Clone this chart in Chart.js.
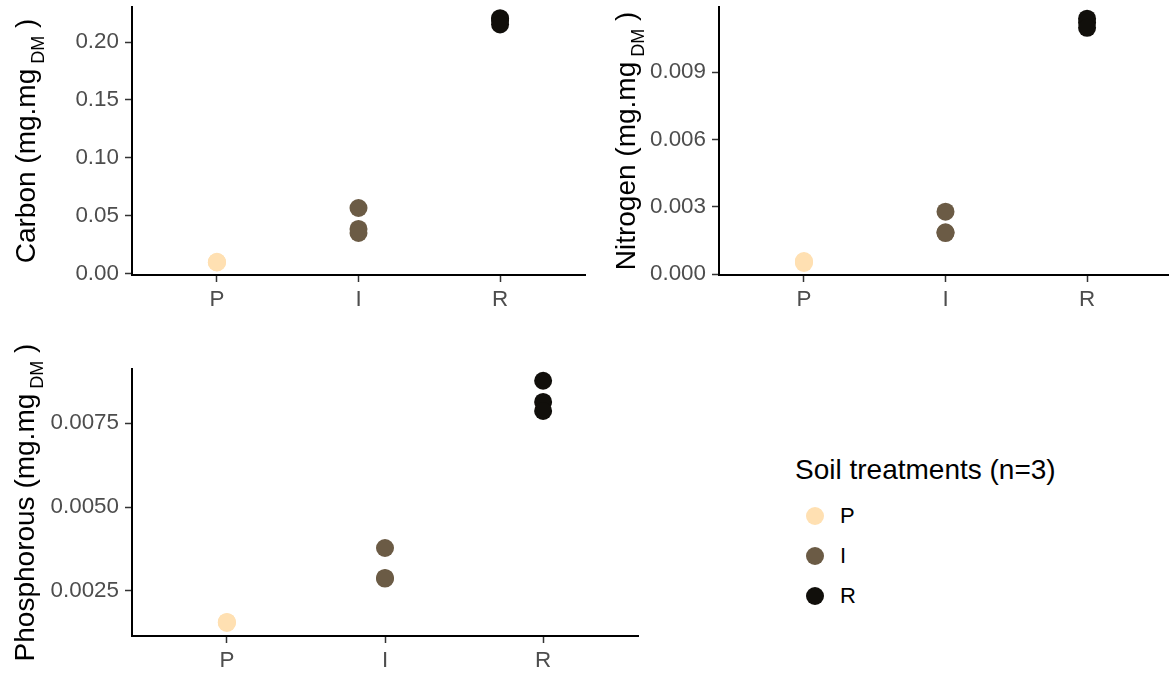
<!DOCTYPE html>
<html>
<head>
<meta charset="utf-8">
<script src="https://cdn.jsdelivr.net/npm/chart.js@4"></script>
<style>
  html, body { margin: 0; padding: 0; background: #fff; }
  body { width: 1169px; height: 675px; position: relative; overflow: hidden;
         font-family: "Liberation Sans", Arial, sans-serif; }
  .panel { position: absolute; }
  #legend { position: absolute; left: 795px; top: 456px; color: #000; }
  #legend .ttl { font-size: 28px; line-height: 28px; white-space: nowrap; }
  #legend .item { position: absolute; left: 11px; display: flex; align-items: center; height: 20px; }
  #legend .dot { width: 18px; height: 18px; border-radius: 50%; }
  #legend .lbl { font-size: 22px; margin-left: 16px; }
</style>
</head>
<body>
<div class="panel" style="left:0;top:0;width:590px;height:320px"><canvas id="chartC"></canvas></div>
<div class="panel" style="left:590px;top:0;width:586px;height:320px"><canvas id="chartN"></canvas></div>
<div class="panel" style="left:0;top:340px;width:650px;height:335px"><canvas id="chartP"></canvas></div>
<div id="legend"></div>

<script>
// ── Datos ──────────────────────────────────────────────────────────────────
const CATEGORIES = ['P', 'I', 'R'];
const COLORS     = ['#FFE0B2', '#6B5B45', '#110F0B'];
const LEGEND_TITLE = 'Soil treatments (n=3)';

// tres réplicas por tratamiento
const carbonP = [0.0098, 0.0101, 0.0104];
const carbonI = [0.0568, 0.0387, 0.0353];
const carbonR = [0.2206, 0.2190, 0.2152];

const nitrogenP = [0.00050, 0.00055, 0.00058];
const nitrogenI = [0.00278, 0.00183, 0.00186];
const nitrogenR = [0.01138, 0.01120, 0.01097];

const phosP = [0.00155, 0.00157, 0.00158];
const phosI = [0.00378, 0.00289, 0.00287];
const phosR = [0.00876, 0.00813, 0.00786];

const carbonTicks   = [0.00, 0.05, 0.10, 0.15, 0.20];
const nitrogenTicks = [0.000, 0.003, 0.006, 0.009];
const phosTicks     = [0.0025, 0.0050, 0.0075];

// ── Utils ──────────────────────────────────────────────────────────────────
const $ = id => document.getElementById(id);
const FONT = '"Liberation Sans", Arial, sans-serif';
const TICK_SIZE  = 22.4;
const TITLE_SIZE = 28;

function _datasets(series) {
  return series.map((vals, i) => ({
    label: CATEGORIES[i],
    data: vals.map(v => ({ x: i + 1, y: v })),
    backgroundColor: COLORS[i],
    borderWidth: 0,
    pointRadius: 9,
    pointHoverRadius: 9,
  }));
}

// sin relleno extra por las etiquetas: el área del gráfico la fija layout.padding
function _noPad(s) {
  s.paddingTop = 0; s.paddingBottom = 0; s.paddingLeft = 0; s.paddingRight = 0;
}

// título del eje Y con subíndice "DM"
function _yTitle(name, baseX) {
  const parts = [
    { text: name + ' (mg.mg', size: TITLE_SIZE, shift: 0 },
    { text: ' DM',            size: 18,         shift: 9 },
    { text: ' )',             size: TITLE_SIZE, shift: 0 },
  ];
  return {
    id: 'yTitle',
    afterDraw(chart) {
      const ctx = chart.ctx;
      const area = chart.chartArea;
      ctx.save();
      const widths = parts.map(p => { ctx.font = `${p.size}px ${FONT}`; return ctx.measureText(p.text).width; });
      const total = widths.reduce((a, b) => a + b, 0);
      ctx.translate(baseX, (area.top + area.bottom) / 2);
      ctx.rotate(-Math.PI / 2);
      ctx.fillStyle = '#000';
      ctx.textBaseline = 'alphabetic';
      let u = -total / 2;
      parts.forEach((p, i) => {
        ctx.font = `${p.size}px ${FONT}`;
        ctx.fillText(p.text, u, p.shift);
        u += widths[i];
      });
      ctx.restore();
    }
  };
}

function _panel(canvasId, cfg) {
  return new Chart($(canvasId), {
    type: 'scatter',
    data: { datasets: _datasets(cfg.series) },
    options: {
      responsive: true,
      maintainAspectRatio: false,
      animation: false,
      layout: { padding: cfg.padding, autoPadding: false },
      plugins: { legend: { display: false }, tooltip: { enabled: false } },
      scales: {
        x: {
          type: 'linear', min: 0.4, max: 3.6,
          afterBuildTicks: s => { s.ticks = [1, 2, 3].map(v => ({ value: v })); },
          afterFit: s => { s.height = cfg.xHeight; _noPad(s); },
          ticks: { callback: v => CATEGORIES[v - 1], color: '#4D4D4D', padding: 4,
                   font: { family: FONT, size: TICK_SIZE } },
          grid: { drawOnChartArea: false, drawTicks: true, tickLength: 7, tickColor: '#333', tickWidth: 1.5 },
          border: { display: true, color: '#000', width: 2 },
        },
        y: {
          min: cfg.yMin, max: cfg.yMax,
          afterBuildTicks: s => { s.ticks = cfg.ticks.map(v => ({ value: v })); },
          afterFit: s => { s.width = cfg.yWidth; _noPad(s); },
          ticks: { callback: v => v.toFixed(cfg.digits), color: '#4D4D4D', padding: 6,
                   font: { family: FONT, size: TICK_SIZE } },
          grid: { drawOnChartArea: false, drawTicks: true, tickLength: 7, tickColor: '#333', tickWidth: 1.5 },
          border: { display: true, color: '#000', width: 2 },
        },
      },
    },
    plugins: [_yTitle(cfg.name, cfg.titleX)],
  });
}

// ── Paneles ────────────────────────────────────────────────────────────────
_panel('chartC', {
  name: 'Carbon', series: [carbonP, carbonI, carbonR], ticks: carbonTicks, digits: 2,
  yMin: -0.0010, yMax: 0.2302, yWidth: 132, xHeight: 45, titleX: 35,
  padding: { top: 7, right: 5, left: 0, bottom: 0 },
});

_panel('chartN', {
  name: 'Nitrogen', series: [nitrogenP, nitrogenI, nitrogenR], ticks: nitrogenTicks, digits: 3,
  yMin: -0.00004, yMax: 0.01190, yWidth: 129, xHeight: 45, titleX: 45,
  padding: { top: 7, right: 4, left: 0, bottom: 0 },
});

_panel('chartP', {
  name: 'Phosphorous', series: [phosP, phosI, phosR], ticks: phosTicks, digits: 4,
  yMin: 0.00116, yMax: 0.00911, yWidth: 132, xHeight: 39, titleX: 34,
  padding: { top: 29, right: 12, left: 0, bottom: 0 },
});

// ── Leyenda ────────────────────────────────────────────────────────────────
$('legend').innerHTML = `<div class="ttl">${LEGEND_TITLE}</div>` +
  CATEGORIES.map((c, i) => `
    <div class="item" style="top:${50 + i * 40}px">
      <div class="dot" style="background:${COLORS[i]}"></div><span class="lbl">${c}</span>
    </div>`).join('');
</script>
</body>
</html>
